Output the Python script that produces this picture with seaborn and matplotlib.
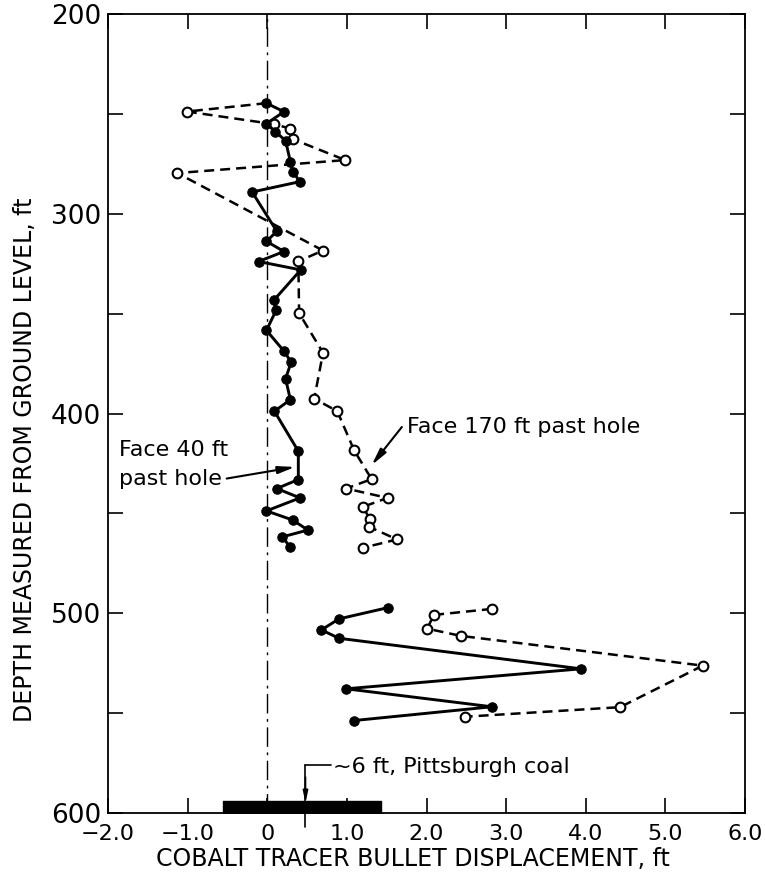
import matplotlib
matplotlib.use('Agg')
import matplotlib.pyplot as plt
import seaborn as sns

# =============================
# DATA
# =============================
# Face 40 ft past hole (solid line, filled dots)
face40_upper_x = [-0.01, 0.21, -0.01, 0.10, 0.23, 0.29, 0.32, 0.41, -0.19, 0.12,
                  -0.01, 0.21, -0.11, 0.42, 0.08, 0.11, -0.01, 0.21, 0.30, 0.23,
                  0.29, 0.09, 0.39, 0.39, 0.12, 0.41, -0.01, 0.32, 0.51, 0.19, 0.29]
face40_upper_depth = [244.5, 248.8, 254.7, 258.7, 263.3, 273.8, 278.8, 283.8, 289.0, 308.7,
                      313.7, 318.8, 323.8, 328.0, 343.3, 348.3, 358.3, 368.7, 374.2, 382.5,
                      393.0, 398.8, 418.8, 433.0, 437.5, 442.2, 448.7, 453.3, 458.3, 461.7, 467.0]
face40_lower_x = [1.51, 0.90, 0.68, 0.90, 3.94, 0.99, 2.82, 1.09]
face40_lower_depth = [497.2, 502.8, 508.3, 512.5, 527.8, 537.8, 546.8, 553.7]

# Face 170 ft past hole (dashed line, open circles)
face170_upper_x = [-0.01, -1.01, 0.08, 0.29, 0.32, 0.98, -1.13, 0.70, 0.39, 0.40,
                   0.70, 0.59, 0.88, 1.09, 1.31, 0.99, 1.51, 1.20, 1.29, 1.28, 1.63, 1.20]
face170_upper_depth = [244.5, 248.7, 255.0, 257.2, 262.5, 273.0, 279.5, 318.3, 323.7, 349.7,
                       369.5, 392.5, 398.8, 418.3, 432.8, 437.5, 442.2, 446.7, 452.8, 456.7,
                       463.0, 467.2]
face170_lower_x = [2.82, 2.09, 2.01, 2.43, 5.47, 4.43, 2.48]
face170_lower_depth = [497.8, 500.8, 507.7, 511.3, 526.2, 547.0, 551.8]

# Pittsburgh coal seam
coal_x = [-0.55, 1.43]
coal_depth = [594, 600]

x_ticks = [-2, -1, 0, 1, 2, 3, 4, 5, 6]
x_tick_labels = ['−2.0', '−1.0', '0', '1.0', '2.0', '3.0', '4.0', '5.0', '6.0']
y_ticks = [200, 300, 400, 500, 600]
y_minor_ticks = [250, 350, 450, 550]

# =============================
# Plot
# =============================
sns.set_style('ticks')
plt.rcParams['font.family'] = ['DejaVu Sans']
for key in ['text.color', 'axes.labelcolor', 'xtick.color', 'ytick.color', 'axes.edgecolor']:
    plt.rcParams[key] = 'black'

fig = plt.figure(figsize=(7.65, 8.89), dpi=100)
ax = fig.add_axes([0.1412, 0.0855, 0.8327, 0.8984])

# reference line at zero displacement
ax.axvline(0, color='black', lw=1.0, linestyle=(0, (14, 4, 2, 4)), zorder=1)

dashed = (0, (4, 2.4))
for xs, ds, skip in [(face170_upper_x, face170_upper_depth, True),
                     (face170_lower_x, face170_lower_depth, False)]:
    marks = list(range(1, len(xs))) if skip else None
    sns.lineplot(x=xs, y=ds, sort=False, estimator=None, ax=ax,
                 color='black', lw=1.8, linestyle=dashed,
                 marker='o', markersize=7, markerfacecolor='white',
                 markeredgecolor='black', markeredgewidth=1.5,
                 markevery=marks, zorder=3)

for xs, ds in [(face40_upper_x, face40_upper_depth),
               (face40_lower_x, face40_lower_depth)]:
    sns.lineplot(x=xs, y=ds, sort=False, estimator=None, ax=ax,
                 color='black', lw=2.1,
                 marker='o', markersize=6.8, markerfacecolor='black',
                 markeredgecolor='black', zorder=4)

# coal seam bar
ax.fill_betweenx(coal_depth, coal_x[0], coal_x[1], color='black', zorder=5)

# coal annotation
ax.plot([0.48, 0.48], [576, 607], color='black', lw=1.2, clip_on=False, zorder=6)
ax.plot([0.48, 0.80], [576, 576], color='black', lw=1.2, zorder=6)
ax.annotate('', xy=(0.48, 595), xytext=(0.48, 582),
            arrowprops=dict(arrowstyle='-|>,head_width=0.15,head_length=0.7',
                            color='black', lw=1.2, shrinkA=0, shrinkB=0), zorder=6)
ax.text(0.83, 577, '~6 ft, Pittsburgh coal', fontsize=16, va='center', ha='left')

# face labels
ax.text(-1.86, 418, 'Face 40 ft', fontsize=16, va='center', ha='left')
ax.text(-1.86, 432.5, 'past hole', fontsize=16, va='center', ha='left')
ax.annotate('', xy=(0.35, 426.7), xytext=(-0.51, 432.5),
            arrowprops=dict(arrowstyle='-|>,head_width=0.22,head_length=1.0',
                            color='black', lw=1.5, shrinkA=0, shrinkB=0))
ax.text(1.75, 406.5, 'Face 170 ft past hole', fontsize=16, va='center', ha='left')
ax.annotate('', xy=(1.31, 425.8), xytext=(1.69, 406.7),
            arrowprops=dict(arrowstyle='-|>,head_width=0.22,head_length=1.0',
                            color='black', lw=1.5, shrinkA=0, shrinkB=0))

# axes
ax.set_xlim(-2, 6)
ax.set_ylim(600, 200)
ax.set_xticks(x_ticks)
ax.set_xticklabels(x_tick_labels)
ax.set_yticks(y_ticks)
ax.set_yticks(y_minor_ticks, minor=True)
ax.tick_params(which='both', direction='in', length=11, width=1.2,
               top=True, right=True, color='black')
ax.tick_params(axis='x', labelsize=16, pad=8)
ax.tick_params(axis='y', labelsize=19, pad=5)
for sp in ax.spines.values():
    sp.set_linewidth(1.3)
    sp.set_color('black')

ax.set_xlabel('COBALT TRACER BULLET DISPLACEMENT, ft', fontsize=17)
ax.set_ylabel('DEPTH MEASURED FROM GROUND LEVEL, ft', fontsize=17)
ax.xaxis.set_label_coords(0.479, -0.042)
ax.yaxis.set_label_coords(-0.112, 0.442)

fig.savefig('out.png', dpi=100)
